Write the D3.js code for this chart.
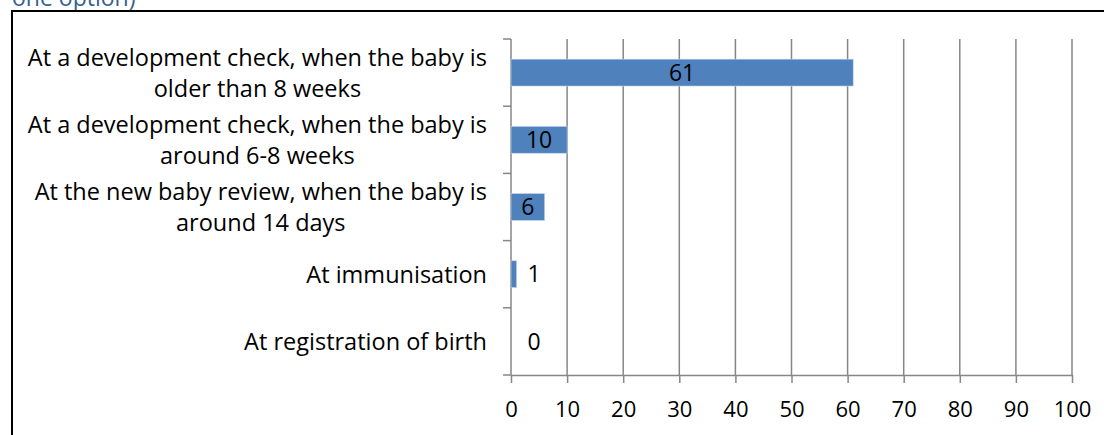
<!doctype html>
<html lang="en">
<head>
<meta charset="utf-8">
<title>Bar chart</title>
<style>
  body { margin: 0; background: #fff; }
  svg { display: block; }
</style>
</head>
<body>
<script src="https://cdn.jsdelivr.net/npm/d3@7/dist/d3.min.js"></script>
<script>

// data (top to bottom as drawn)
var categories = [
  ["At a development check, when the baby is", "older than 8 weeks"],
  ["At a development check, when the baby is", "around 6-8 weeks"],
  ["At the new baby review, when the baby is", "around 14 days"],
  ["At immunisation"],
  ["At registration of birth"]
];
var values = [61, 10, 6, 1, 0];
var xTicks = [0, 10, 20, 30, 40, 50, 60, 70, 80, 90, 100];
var headingText = "one option)";

var W = 1104, H = 435;
var font = "'Open Sans', 'Noto Sans', sans-serif";

var svg = d3.select("body").append("svg")
  .attr("width", W)
  .attr("height", H);

// cut-off heading from the page above
svg.append("text")
  .attr("x", 12)
  .attr("y", 6)
  .attr("fill", "#365f91")
  .style("font-family", font)
  .style("font-size", "23px")
  .text(headingText);

// chart frame
svg.append("rect")
  .attr("x", 12)
  .attr("y", 11)
  .attr("width", W + 10)
  .attr("height", H + 10)
  .attr("fill", "none")
  .attr("stroke", "#000")
  .attr("stroke-width", 2);

var plot = {left: 511, right: 1072, top: 39, bottom: 375};

var x = d3.scaleLinear()
  .domain([0, 100])
  .range([plot.left, plot.right]);

var y = d3.scaleBand()
  .domain(d3.range(categories.length))
  .range([plot.top, plot.bottom])
  .paddingInner(0.6)
  .paddingOuter(0.3);

var yb = d3.scaleBand()
  .domain(d3.range(categories.length))
  .range([plot.top, plot.bottom]);

var grey = "#868686";

// vertical gridlines
svg.append("g")
  .selectAll("line")
  .data(xTicks.slice(1))
  .enter()
  .append("line")
  .attr("x1", function(d){ return x(d); })
  .attr("x2", function(d){ return x(d); })
  .attr("y1", plot.top)
  .attr("y2", plot.bottom)
  .attr("stroke", grey)
  .attr("stroke-width", 1.5);

// x axis
var xAxis = svg.append("g")
  .attr("transform", "translate(0," + plot.bottom + ")")
  .call(d3.axisBottom(x).tickValues(xTicks).tickSize(8).tickSizeOuter(0).tickPadding(18));
xAxis.select(".domain").attr("stroke", grey).attr("stroke-width", 1.5);
xAxis.selectAll(".tick line").attr("stroke", grey).attr("stroke-width", 1.5);
xAxis.selectAll(".tick text")
  .attr("fill", "#000")
  .style("font-family", font)
  .style("font-size", "22px");

// y axis: ticks on category boundaries
var bounds = d3.range(categories.length + 1);
var yLine = svg.append("g");
yLine.append("line")
  .attr("x1", plot.left).attr("x2", plot.left)
  .attr("y1", plot.top).attr("y2", plot.bottom)
  .attr("stroke", grey).attr("stroke-width", 1.5);
yLine.selectAll(".yt")
  .data(bounds)
  .enter()
  .append("line")
  .attr("class", "yt")
  .attr("x1", plot.left - 8).attr("x2", plot.left)
  .attr("y1", function(d){ return d < categories.length ? yb(d) : plot.bottom; })
  .attr("y2", function(d){ return d < categories.length ? yb(d) : plot.bottom; })
  .attr("stroke", grey).attr("stroke-width", 1.5);

// bars
svg.append("g")
  .selectAll("rect")
  .data(values)
  .enter()
  .append("rect")
  .attr("x", x(0))
  .attr("y", function(d, i){ return y(i); })
  .attr("width", function(d){ return x(d) - x(0); })
  .attr("height", y.bandwidth())
  .attr("fill", "#4f81bd")
  .attr("stroke", "#c9d6ea")
  .attr("stroke-width", 0.6);

// value labels
svg.append("g")
  .selectAll("text")
  .data(values)
  .enter()
  .append("text")
  .attr("x", function(d){
    var w = x(d) - x(0);
    return w > 28 ? x(0) + w / 2 : x(0) + 23;
  })
  .attr("y", function(d, i){ return y(i) + y.bandwidth() / 2; })
  .attr("dy", "0.36em")
  .attr("text-anchor", "middle")
  .attr("fill", "#000")
  .style("font-family", font)
  .style("font-size", "23px")
  .text(function(d){ return d; });

// category labels, lines centred on each other, block right aligned
var catSize = 23.5;
var labels = svg.append("g")
  .style("font-family", font)
  .style("font-size", catSize + "px")
  .attr("fill", "#000");

var lineGap = 31;
var rightEdge = 487;

categories.forEach(function(lines, i) {
  var g = labels.append("g");
  var cy = yb(i) + yb.bandwidth() / 2;
  var t = g.selectAll("text")
    .data(lines)
    .enter()
    .append("text")
    .attr("text-anchor", "middle")
    .attr("y", function(d, j){ return cy + (j - (lines.length - 1) / 2) * lineGap; })
    .attr("dy", "0.36em")
    .text(function(d){ return d; });
  var maxW = 0;
  t.each(function(){ maxW = Math.max(maxW, this.getComputedTextLength()); });
  t.attr("x", rightEdge - maxW / 2);
});

</script>
</body>
</html>
